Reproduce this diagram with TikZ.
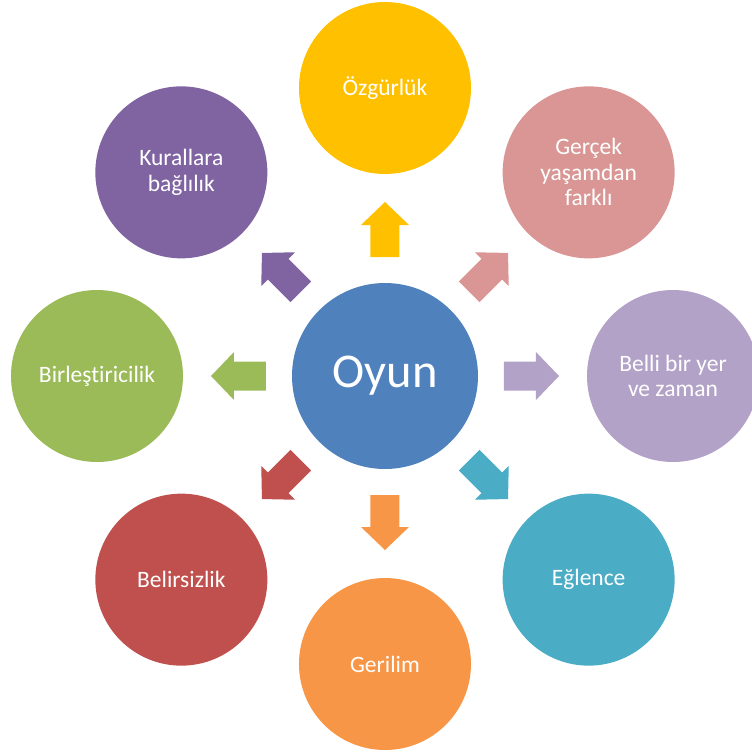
\documentclass[tikz,border=0pt]{standalone}
\usepackage{fontspec}
\setmainfont[RawFeature={-liga;-clig;-dlig}]{Carlito}
\usetikzlibrary{calc}

% Office-style accent colours
\definecolor{hubblue}{HTML}{4F81BD}
\definecolor{cyellow}{HTML}{FFC000}
\definecolor{crose}{HTML}{D99694}
\definecolor{clilac}{HTML}{B3A2C7}
\definecolor{caqua}{HTML}{4BACC6}
\definecolor{corange}{HTML}{F79646}
\definecolor{cred}{HTML}{C0504D}
\definecolor{cgreen}{HTML}{9BBB59}
\definecolor{cpurple}{HTML}{8064A2}

\begin{document}
\begin{tikzpicture}[x=1pt,y=1pt,
  hub/.style={circle, fill=hubblue, minimum size=186pt, inner sep=0pt,
    text=white, font=\fontsize{48.5}{58}\selectfont},
  petal/.style={circle, fill=#1, minimum size=172pt, inner sep=0pt,
    text=white, align=center, font=\fontsize{23.5}{25.5}\selectfont},
  blockarrow/.style={fill=#1}]

\useasboundingbox (-385,-380) rectangle (367,376);

% central hub
\node[hub] (c) at (0,0) {Oyun};

% surrounding circles
\node[petal=cyellow] (p1) at (90:288)  {Özgürlük};
\node[petal=crose]   (p2) at (45:288)  {Gerçek\\yaşamdan\\farklı};
\node[petal=clilac]  (p3) at (0:288)   {Belli bir yer\\ve zaman};
\node[petal=caqua]   (p4) at (-45:288) {Eğlence};
\node[petal=corange] (p5) at (-90:288) {Gerilim};
\node[petal=cred]    (p6) at (-135:288){Belirsizlik};
\node[petal=cgreen]  (p7) at (180:288) {Birleşt\kern0pt iricilik};
\node[petal=cpurple] (p8) at (135:288) {Kurallara\\bağlılık};

% block arrows pointing outward from the hub
\foreach \ang/\col in {90/cyellow, 45/crose, 0/clilac, -45/caqua,
                       -90/corange, -135/cred, 180/cgreen, 135/cpurple}{
  \fill[blockarrow=\col, shift={(c.center)}, rotate=\ang]
    (119,-14.5) -- (151,-14.5) -- (151,-24) -- (174,0) -- (151,24)
    -- (151,14.5) -- (119,14.5) -- cycle;
}
\end{tikzpicture}
\end{document}
